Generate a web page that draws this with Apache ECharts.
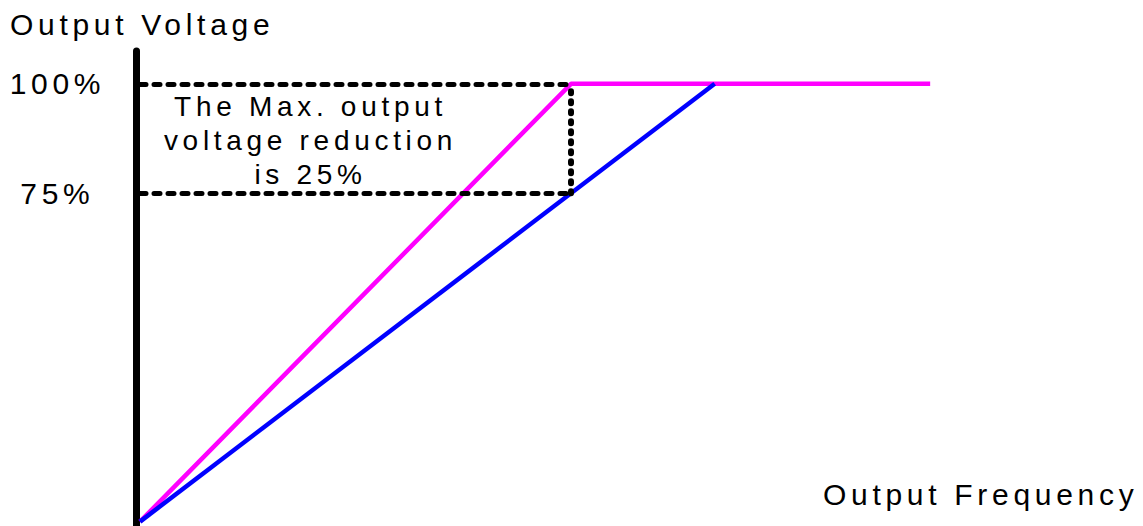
<!DOCTYPE html>
<html>
<head>
<meta charset="utf-8">
<script src="https://cdn.jsdelivr.net/npm/echarts@6/dist/echarts.min.js"></script>
<style>
  html, body { margin: 0; padding: 0; background: #fff; }
  #chart { width: 1143px; height: 526px; }
  /* wide tracking on every label */
  #chart text { letter-spacing: 4.7px; }
</style>
</head>
<body>
<div id="chart"></div>
<script>
// Output frequency (Hz) against output voltage (% of rated)
const baseFreq = 60;
const fullVoltage = 100;
const reducedVoltage = 75;
const standardCurve = [[0, 0], [60, 100], [110, 100]];   // full V/f pattern
const reducedCurve = [[0, 0], [80, 100]];               // reduced V/f pattern
const voltageTicks = [75, 100];
const yTitle = 'Output Voltage';
const xTitle = 'Output Frequency';
const noteLines = ['The Max. output', 'voltage reduction', 'is 25%'];

const FONT = '"Liberation Sans", Arial, sans-serif';

const chart = echarts.init(document.getElementById('chart'), null, { renderer: 'svg' });

const dashH = { color: '#000', width: 5, type: [6, 8], cap: 'round' };
const dashV = { color: '#000', width: 6, type: [2, 8], cap: 'round' };

chart.setOption({
  animation: false,
  backgroundColor: '#fff',
  grid: { left: 140, top: 51, bottom: 0, width: 862 },
  xAxis: { type: 'value', min: 0, max: 120, show: false },
  yAxis: {
    type: 'value', min: -1, max: 107.5, offset: 4,
    axisLine: { show: true, onZero: false, lineStyle: { color: '#000', width: 7, cap: 'round' } },
    axisTick: { show: false },
    splitLine: { show: false },
    axisLabel: {
      customValues: voltageTicks,
      formatter: '{value}%',
      fontSize: 30, color: '#000', fontFamily: FONT,
      align: 'center', margin: 78.6
    }
  },
  series: [
    {
      name: 'standard', type: 'line', data: standardCurve,
      showSymbol: false, symbol: 'none',
      lineStyle: { color: '#ff00ff', width: 4.5 }, z: 2
    },
    {
      name: 'reduced', type: 'line', data: reducedCurve,
      showSymbol: false, symbol: 'none',
      lineStyle: { color: '#0000ff', width: 4.5 }, z: 2
    },
    {
      name: 'guides', type: 'line', data: [], z: 3,
      markLine: {
        silent: true, symbol: ['none', 'none'], label: { show: false },
        data: [
          [{ coord: [0, fullVoltage], lineStyle: dashH }, { coord: [baseFreq, fullVoltage] }],
          [{ coord: [0, reducedVoltage], lineStyle: dashH }, { coord: [baseFreq, reducedVoltage] }],
          [{ coord: [baseFreq, reducedVoltage], lineStyle: dashV }, { coord: [baseFreq, fullVoltage] }]
        ]
      }
    }
  ],
  graphic: [
    {
      type: 'text', x: 10, y: 24.6,
      style: { text: yTitle, font: '30px ' + FONT, fill: '#000', textAlign: 'left', textVerticalAlign: 'middle' }
    },
    {
      type: 'text', x: 823, y: 494.6,
      style: { text: xTitle, font: '30px ' + FONT, fill: '#000', textAlign: 'left', textVerticalAlign: 'middle' }
    },
    {
      type: 'text', x: 310.5, y: 89,
      style: {
        text: noteLines.join('\n'), font: '28px ' + FONT, fill: '#000',
        textAlign: 'center', textVerticalAlign: 'top', lineHeight: 34
      }
    }
  ]
});
</script>
</body>
</html>
